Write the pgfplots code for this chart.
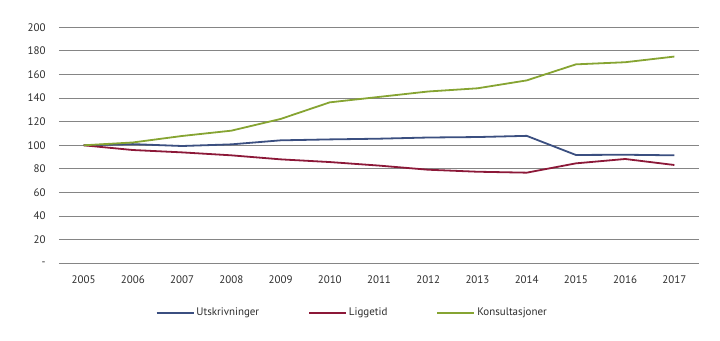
\documentclass[border=0pt]{standalone}
\usepackage{pgfplots}
\pgfplotsset{compat=1.18}
\usepackage{fontspec}
\setmainfont{PT Sans}
\definecolor{cblue}{RGB}{59,79,128}
\definecolor{cred}{RGB}{140,24,56}
\definecolor{cgreen}{RGB}{134,164,50}
\definecolor{ctext}{RGB}{45,45,45}
\begin{document}
\begin{tikzpicture}
\useasboundingbox (0,0) rectangle (720bp,341bp);
\begin{axis}[
  at={(59bp,77.7bp)}, anchor=south west,
  scale only axis, width=640bp, height=236bp,
  xmin=2004.5, xmax=2017.5, ymin=0, ymax=200,
  xtick={2005,2006,2007,2008,2009,2010,2011,2012,2013,2014,2015,2016,2017},
  xticklabels={2005,2006,2007,2008,2009,2010,2011,2012,2013,2014,2015,2016,2017},
  ytick={0,20,40,60,80,100,120,140,160,180,200},
  yticklabels={-,20,40,60,80,100,120,140,160,180,200},
  axis line style={draw=none},
  major tick length=0pt,
  ymajorgrids,
  grid style={draw=black!48, line width=0.8bp},
  tick label style={font=\fontsize{11}{13}\selectfont, text=ctext},
  xticklabel style={yshift=-9bp},
  yticklabel style={xshift=-10bp},
  legend columns=3,
  legend cell align=left,
  legend style={at={(0.146,-0.21)}, anchor=west, draw=none, fill=none,
    font=\fontsize{11}{13}\selectfont, text=ctext,
    /tikz/every even column/.append style={column sep=47bp}},
  legend image code/.code={\draw[#1] (0bp,0bp) -- (37bp,0bp);},
  every axis plot/.append style={line width=1.8bp, line join=round},
]
\addplot[cblue] coordinates {(2005,100) (2006,101) (2007,99.4) (2008,100.8) (2009,104.2) (2010,105) (2011,105.6) (2012,106.6) (2013,107) (2014,108) (2015,91.8) (2016,92) (2017,91.5)};
\addlegendentry{Utskrivninger}
\addplot[cred] coordinates {(2005,100) (2006,96) (2007,94) (2008,91.5) (2009,88.1) (2010,85.8) (2011,82.8) (2012,79.3) (2013,77.6) (2014,76.8) (2015,84.7) (2016,88.4) (2017,83.3)};
\addlegendentry{Liggetid}
\addplot[cgreen] coordinates {(2005,100) (2006,102.4) (2007,107.9) (2008,112.4) (2009,122.3) (2010,136.4) (2011,141) (2012,145.6) (2013,148.3) (2014,155) (2015,168.6) (2016,170.4) (2017,175.2)};
\addlegendentry{Konsultasjoner}
\end{axis}
\end{tikzpicture}
\end{document}
